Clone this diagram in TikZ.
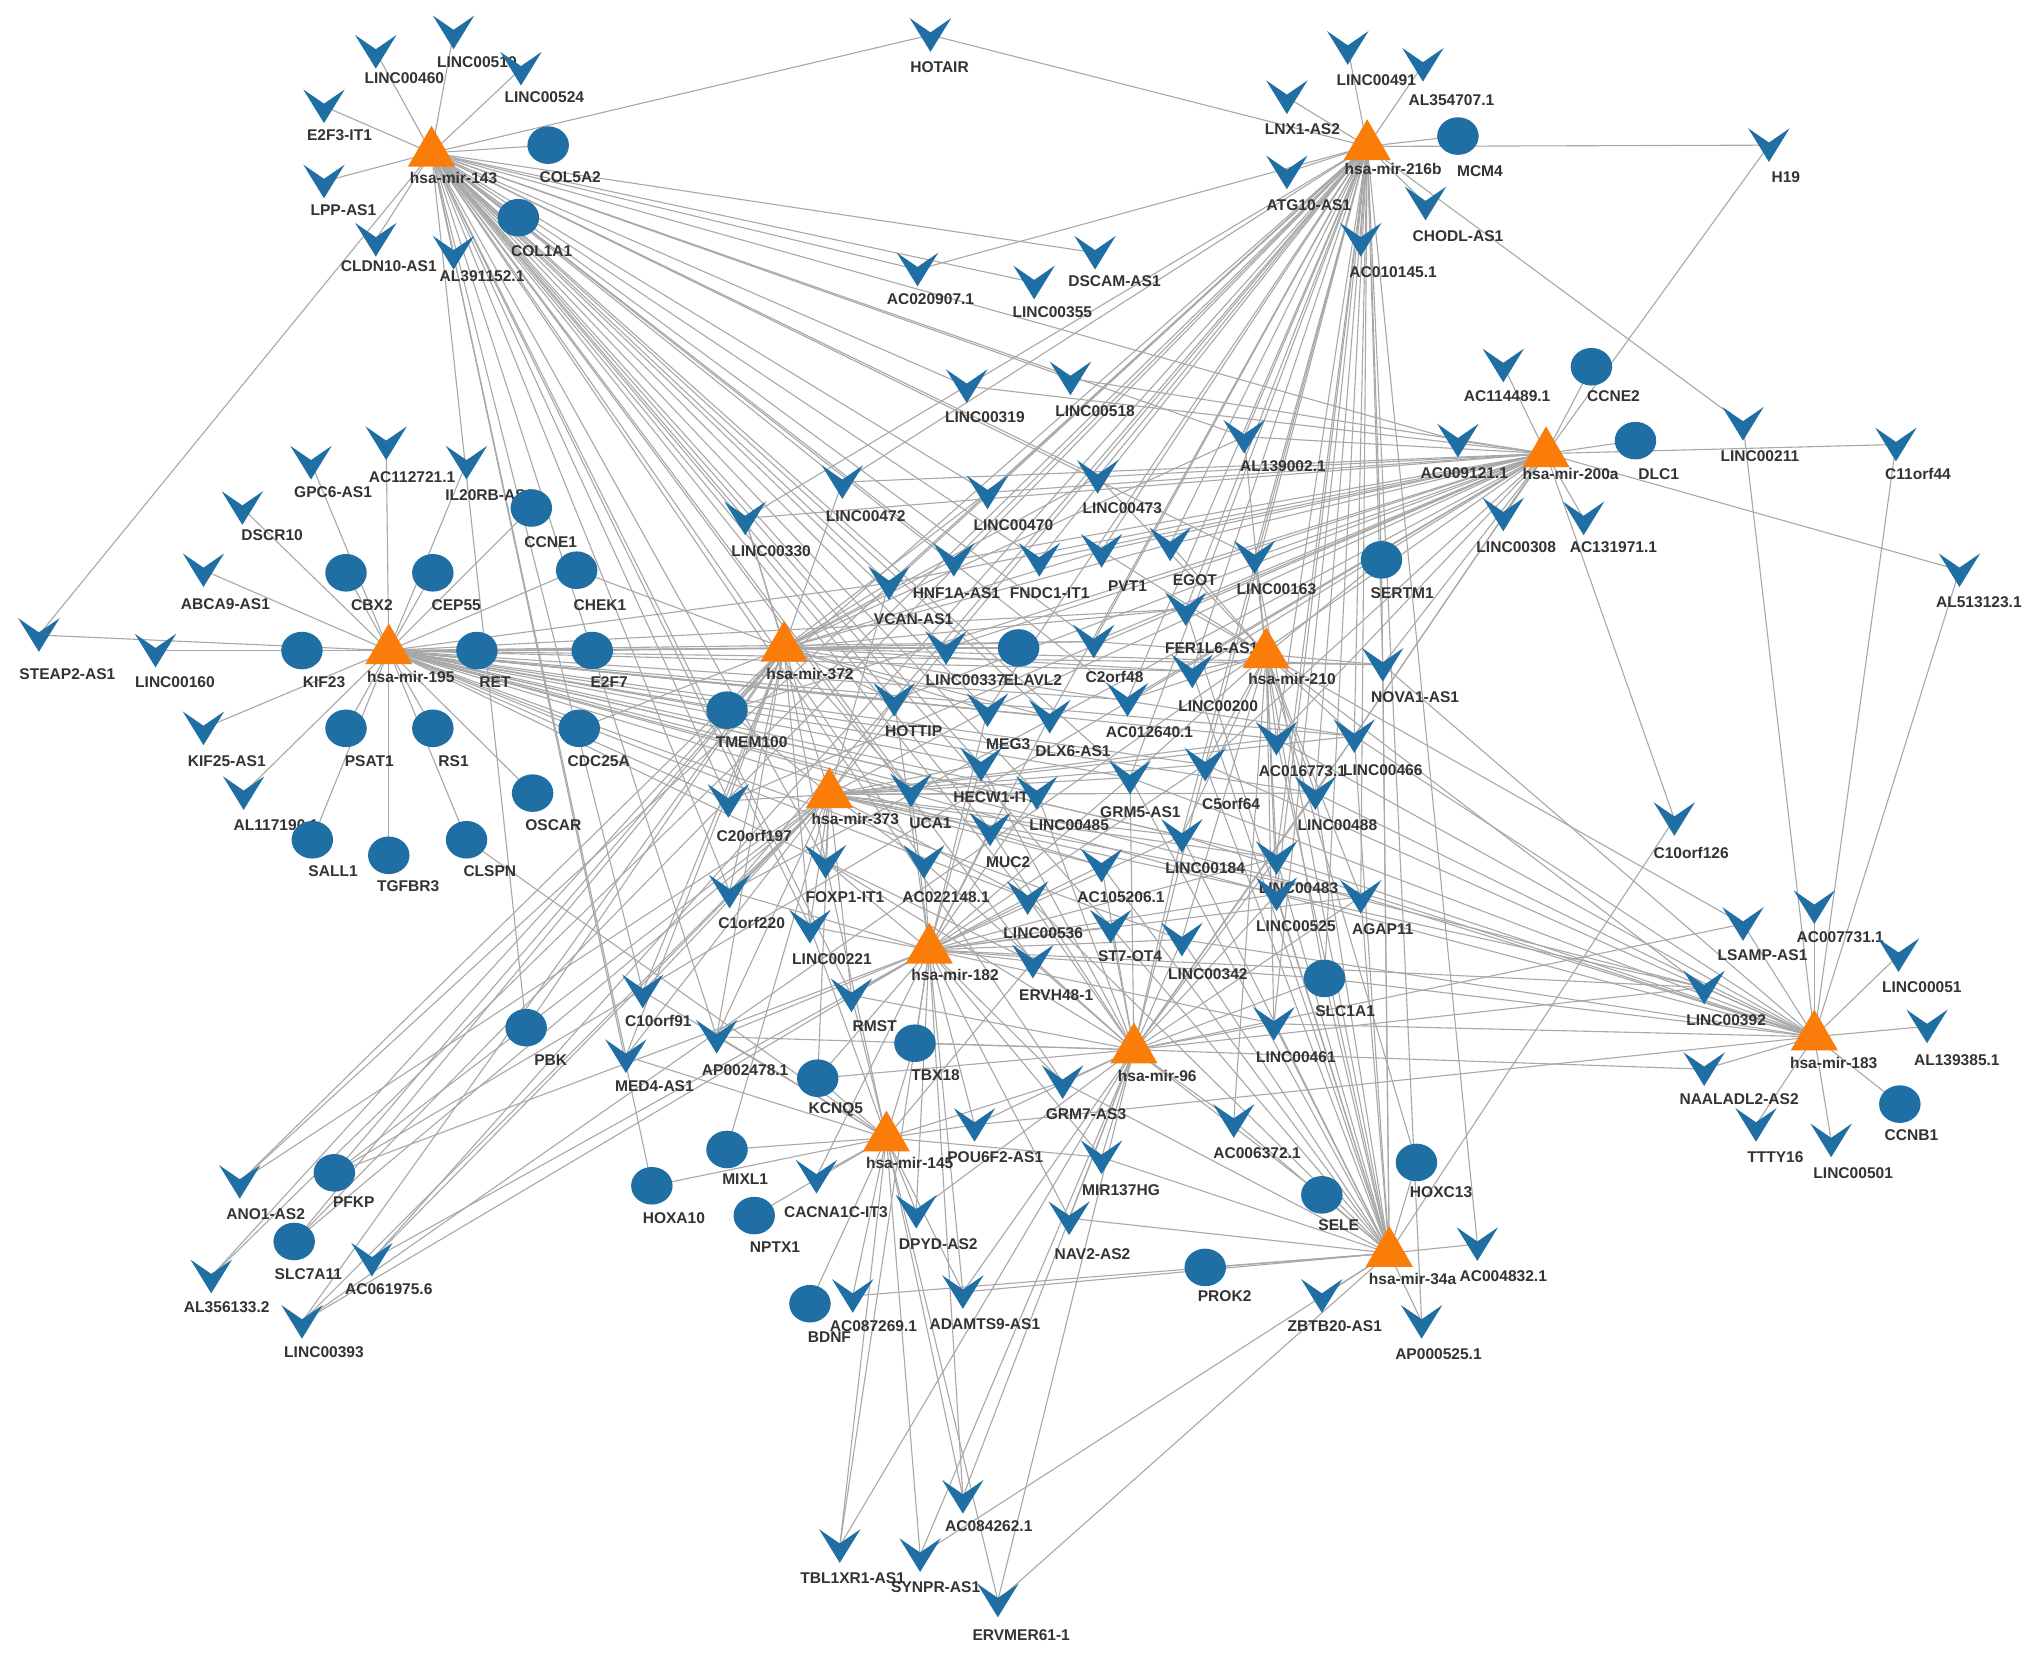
\documentclass[tikz,border=0pt]{standalone}
\usepackage{fontspec}
\setmainfont{Liberation Sans}
\usetikzlibrary{shapes.geometric}
\pgfdeclarelayer{bg}
\pgfsetlayers{bg,main}
\definecolor{vblue}{RGB}{31,111,165}
\definecolor{mor}{RGB}{250,125,10}
\definecolor{edgec}{RGB}{168,168,168}
\tikzset{
 mirna/.style={regular polygon, regular polygon sides=3, minimum size=42pt, inner sep=0pt, fill=mor},
 mrna/.style={ellipse, minimum width=32pt, minimum height=29pt, inner sep=0pt, fill=vblue},
 lnc/.style={rectangle, minimum width=32pt, minimum height=26pt, inner sep=0pt, fill=white, fill opacity=0,
   path picture={\fill[vblue, fill opacity=1] (path picture bounding box.north west) -- ([yshift=-11pt]path picture bounding box.north) -- (path picture bounding box.north east) -- (path picture bounding box.south) -- cycle;}},
 lbl/.style={font=\fontsize{12}{13}\selectfont\bfseries, text=black!80, inner sep=0pt},
 edge/.style={draw=edgec, line width=0.85pt}
}
\newcommand\mkV[6]{\node[lnc] (#1) at (#2,-#3) {}; \node[lbl] (#1l) at (#4,-#5) {#6};}
\newcommand\mkC[6]{\node[mrna] (#1) at (#2,-#3) {}; \node[lbl] (#1l) at (#4,-#5) {#6};}
\newcommand\mkT[6]{\node[mirna] (#1) at (#2,-#3-5) {}; \node[lbl] (#1l) at (#4,-#5) {#6};}
\newcommand\hubedges[2]{\foreach \t in {#2} {\draw[edge] (#1.center) -- (\t.center);}}
\begin{document}
\begin{tikzpicture}[x=1pt,y=1pt]
\begin{pgfonlayer}{bg}
\fill[white] (0,0) rectangle (1568,-1277);
\end{pgfonlayer}
\useasboundingbox (0,0) rectangle (1568,-1277);
% top-left
\mkV{l460}{290}{40}{312}{60}{LINC00460}
\mkV{l519}{350}{25}{368}{48}{LINC00519}
\mkV{l524}{402}{53}{420}{75}{LINC00524}
\mkV{e2f3}{250}{82}{262}{104}{E2F3-IT1}
\mkT{m143}{333}{113}{350}{137}{hsa-mir-143}
\mkC{col5a2}{423}{112}{440}{137}{COL5A2}
\mkV{lpp}{250}{140}{265}{162}{LPP-AS1}
\mkC{col1a1}{400}{168}{418}{194}{COL1A1}
\mkV{cldn10}{290}{185}{300}{205}{CLDN10-AS1}
\mkV{al391}{350}{195}{372}{213}{AL391152.1}
\mkV{hotair}{718}{27}{725}{52}{HOTAIR}
% top-right
\mkV{l491}{1040}{37}{1062}{62}{LINC00491}
\mkV{al354}{1098}{50}{1120}{77}{AL354707.1}
\mkV{lnx1}{993}{75}{1005}{100}{LNX1-AS2}
\mkT{m216}{1055}{108}{1075}{130}{hsa-mir-216b}
\mkC{mcm4}{1125}{105}{1142}{132}{MCM4}
\mkV{atg10}{993}{133}{1010}{158}{ATG10-AS1}
\mkV{chodl}{1100}{157}{1125}{182}{CHODL-AS1}
\mkV{ac010145}{1050}{185}{1075}{210}{AC010145.1}
\mkV{h19}{1365}{112}{1378}{137}{H19}
\mkV{dscam}{845}{195}{860}{217}{DSCAM-AS1}
\mkV{l355}{798}{218}{812}{241}{LINC00355}
\mkV{ac020907}{708}{208}{718}{231}{AC020907.1}
% mir-200a
\mkV{ac114489}{1160}{282}{1163}{306}{AC114489.1}
\mkC{ccne2}{1228}{283}{1245}{306}{CCNE2}
\mkV{ac009121}{1125}{340}{1130}{365}{AC009121.1}
\mkT{m200}{1193}{345}{1212}{366}{hsa-mir-200a}
\mkC{dlc1}{1262}{340}{1280}{366}{DLC1}
\mkV{l308}{1160}{397}{1170}{422}{LINC00308}
\mkV{ac131971}{1222}{400}{1245}{422}{AC131971.1}
\mkV{l211}{1345}{327}{1358}{352}{LINC00211}
\mkV{c11orf44}{1463}{343}{1480}{366}{C11orf44}
\mkV{al513}{1512}{440}{1527}{465}{AL513123.1}
\mkV{al139002}{960}{337}{990}{360}{AL139002.1}
\mkV{l319}{746}{298}{760}{322}{LINC00319}
\mkV{l518}{826}{292}{845}{317}{LINC00518}
% mir-195
\mkV{gpc6}{240}{357}{257}{380}{GPC6-AS1}
\mkV{ac112721}{298}{342}{318}{368}{AC112721.1}
\mkV{il20rb}{360}{357}{378}{382}{IL20RB-AS1}
\mkV{dscr10}{187}{392}{210}{413}{DSCR10}
\mkC{ccne1}{410}{392}{425}{418}{CCNE1}
\mkV{abca9}{157}{440}{174}{466}{ABCA9-AS1}
\mkC{cbx2}{267}{442}{287}{467}{CBX2}
\mkC{cep55}{334}{442}{352}{467}{CEP55}
\mkC{chek1}{445}{440}{463}{467}{CHEK1}
\mkV{steap2}{30}{490}{52}{520}{STEAP2-AS1}
\mkV{l160}{120}{502}{135}{526}{LINC00160}
\mkC{kif23}{233}{502}{250}{526}{KIF23}
\mkT{m195}{300}{497}{317}{522}{hsa-mir-195}
\mkC{ret}{368}{502}{382}{526}{RET}
\mkC{e2f7}{457}{502}{470}{526}{E2F7}
\mkV{kif25}{157}{562}{175}{587}{KIF25-AS1}
\mkC{psat1}{267}{562}{285}{587}{PSAT1}
\mkC{rs1}{334}{562}{350}{587}{RS1}
\mkC{cdc25a}{447}{562}{462}{587}{CDC25A}
\mkV{al117190}{188}{612}{213}{637}{AL117190.1}
\mkC{oscar}{411}{612}{427}{637}{OSCAR}
\mkC{sall1}{241}{648}{257}{672}{SALL1}
\mkC{tgfbr3}{300}{660}{315}{684}{TGFBR3}
\mkC{clspn}{360}{648}{378}{672}{CLSPN}
% middle
\mkV{l330}{575}{400}{595}{425}{LINC00330}
\mkV{l472}{650}{372}{668}{398}{LINC00472}
\mkV{l470}{762}{380}{782}{405}{LINC00470}
\mkV{l473}{847}{368}{866}{392}{LINC00473}
\mkV{vcan}{686}{450}{705}{478}{VCAN-AS1}
\mkV{hnf1a}{736}{432}{738}{458}{HNF1A-AS1}
\mkV{fndc1}{802}{432}{810}{458}{FNDC1-IT1}
\mkV{pvt1}{850}{425}{870}{452}{PVT1}
\mkV{egot}{903}{420}{922}{448}{EGOT}
\mkV{l163}{968}{430}{985}{455}{LINC00163}
\mkC{sertm1}{1066}{432}{1082}{458}{SERTM1}
\mkT{m372}{605}{495}{625}{520}{hsa-mir-372}
\mkV{l337}{730}{500}{745}{525}{LINC00337}
\mkC{elavl2}{786}{500}{797}{525}{ELAVL2}
\mkV{c2orf48}{844}{495}{860}{522}{C2orf48}
\mkV{fer1l6}{915}{470}{935}{500}{FER1L6-AS1}
\mkT{m210}{977}{500}{997}{524}{hsa-mir-210}
\mkV{nova1}{1067}{513}{1092}{538}{NOVA1-AS1}
\mkC{tmem100}{561}{548}{580}{573}{TMEM100}
\mkV{hottip}{690}{540}{705}{564}{HOTTIP}
\mkV{meg3}{762}{548}{778}{574}{MEG3}
\mkV{dlx6}{810}{553}{828}{580}{DLX6-AS1}
\mkV{ac012640}{870}{540}{887}{565}{AC012640.1}
\mkV{l200}{920}{518}{940}{545}{LINC00200}
\mkV{ac016773}{985}{570}{1005}{595}{AC016773.1}
\mkV{l466}{1045}{568}{1067}{594}{LINC00466}
\mkT{m373}{640}{608}{660}{632}{hsa-mir-373}
\mkV{c20orf197}{562}{618}{582}{645}{C20orf197}
\mkV{uca1}{703}{610}{718}{635}{UCA1}
\mkV{hecw1}{757}{590}{768}{615}{HECW1-IT1}
\mkV{l485}{800}{612}{825}{637}{LINC00485}
\mkV{grm5}{872}{600}{880}{627}{GRM5-AS1}
\mkV{c5orf64}{930}{590}{950}{620}{C5orf64}
\mkV{l488}{1015}{612}{1032}{637}{LINC00488}
\mkV{muc2}{764}{640}{778}{665}{MUC2}
\mkV{l184}{912}{645}{930}{670}{LINC00184}
\mkV{l483}{985}{662}{1002}{685}{LINC00483}
\mkV{c1orf220}{563}{688}{580}{712}{C1orf220}
\mkV{foxp1}{637}{665}{652}{692}{FOXP1-IT1}
\mkV{ac022148}{713}{665}{730}{692}{AC022148.1}
\mkV{ac105206}{850}{668}{865}{692}{AC105206.1}
\mkV{l525}{985}{690}{1000}{715}{LINC00525}
\mkV{agap11}{1050}{692}{1067}{717}{AGAP11}
\mkV{l221}{625}{715}{642}{740}{LINC00221}
\mkV{l536}{793}{693}{805}{720}{LINC00536}
\mkT{m182}{717}{728}{737}{752}{hsa-mir-182}
\mkV{erv48}{797}{742}{815}{768}{ERVH48-1}
\mkV{st7}{857}{715}{872}{738}{ST7-OT4}
\mkV{l342}{912}{725}{932}{752}{LINC00342}
\mkC{slc1a1}{1022}{755}{1038}{780}{SLC1A1}
\mkV{l461}{983}{790}{1000}{816}{LINC00461}
\mkV{c10orf91}{496}{765}{508}{788}{C10orf91}
\mkV{rmst}{657}{768}{675}{792}{RMST}
\mkC{tbx18}{706}{805}{722}{830}{TBX18}
\mkT{m96}{875}{805}{893}{830}{hsa-mir-96}
\mkC{pbk}{406}{793}{425}{818}{PBK}
\mkV{med4}{483}{815}{505}{838}{MED4-AS1}
\mkV{ap002478}{553}{800}{575}{826}{AP002478.1}
\mkC{kcnq5}{631}{832}{645}{856}{KCNQ5}
\mkV{grm7}{820}{835}{838}{860}{GRM7-AS3}
\mkV{ac006372}{952}{865}{970}{890}{AC006372.1}
\mkT{m145}{684}{873}{702}{897}{hsa-mir-145}
\mkV{pou6f2}{752}{868}{768}{893}{POU6F2-AS1}
\mkC{mixl1}{561}{887}{575}{910}{MIXL1}
\mkV{cacna1c}{630}{908}{645}{935}{CACNA1C-IT3}
\mkV{mir137}{850}{893}{865}{918}{MIR137HG}
\mkC{hoxc13}{1093}{897}{1112}{920}{HOXC13}
\mkC{sele}{1020}{922}{1033}{945}{SELE}
\mkC{hoxa10}{503}{915}{520}{940}{HOXA10}
\mkC{nptx1}{582}{938}{598}{962}{NPTX1}
\mkV{dpyd}{707}{935}{724}{960}{DPYD-AS2}
\mkV{nav2}{825}{940}{843}{968}{NAV2-AS2}
\mkC{prok2}{930}{978}{945}{1000}{PROK2}
\mkT{m34}{1072}{962}{1090}{987}{hsa-mir-34a}
\mkV{ac004832}{1140}{960}{1160}{985}{AC004832.1}
\mkV{zbtb20}{1020}{1000}{1030}{1023}{ZBTB20-AS1}
\mkV{ap000525}{1097}{1020}{1110}{1045}{AP000525.1}
\mkC{bdnf}{625}{1006}{640}{1032}{BDNF}
\mkV{ac087269}{658}{1000}{674}{1023}{AC087269.1}
\mkV{adamts9}{743}{997}{760}{1022}{ADAMTS9-AS1}
\mkV{ac084262}{743}{1155}{763}{1178}{AC084262.1}
\mkV{tbl1xr1}{648}{1193}{658}{1218}{TBL1XR1-AS1}
\mkV{synpr}{710}{1200}{722}{1225}{SYNPR-AS1}
\mkV{ervmer}{770}{1235}{788}{1262}{ERVMER61-1}
% bottom-left
\mkC{pfkp}{258}{905}{273}{928}{PFKP}
\mkV{ano1}{185}{912}{205}{937}{ANO1-AS2}
\mkC{slc7a11}{227}{958}{238}{983}{SLC7A11}
\mkV{ac061975}{287}{972}{300}{995}{AC061975.6}
\mkV{al356133}{163}{985}{175}{1009}{AL356133.2}
\mkV{l393}{233}{1020}{250}{1043}{LINC00393}
% right
\mkV{c10orf126}{1292}{632}{1305}{658}{C10orf126}
\mkV{lsamp}{1345}{713}{1360}{737}{LSAMP-AS1}
\mkV{ac007731}{1400}{700}{1420}{723}{AC007731.1}
\mkV{l051}{1465}{737}{1483}{762}{LINC00051}
\mkV{l392}{1315}{762}{1332}{787}{LINC00392}
\mkT{m183}{1400}{795}{1415}{820}{hsa-mir-183}
\mkV{al139385}{1487}{792}{1510}{818}{AL139385.1}
\mkV{naaladl2}{1315}{825}{1342}{848}{NAALADL2-AS2}
\mkC{ccnb1}{1466}{852}{1475}{876}{CCNB1}
\mkV{ttty16}{1355}{868}{1370}{893}{TTTY16}
\mkV{l501}{1413}{880}{1430}{905}{LINC00501}
% edges
\begin{pgfonlayer}{bg}
\hubedges{m143}{l460,l519,l524,e2f3,lpp,col5a2,col1a1,cldn10,al391,hotair,steap2,dscam,l355,ac020907,l319,l518,l472,l330,l470,l473,hnf1a,vcan,fndc1,l337,hottip,meg3,dlx6,c2orf48,ac012640,uca1,hecw1,l485,muc2,grm5,c20orf197,c1orf220,foxp1,ac022148,l221,l536,erv48,st7,rmst,c10orf91,med4,ap002478,pbk,hoxa10,al139002,ac009121,l163,grm7}
\hubedges{m216}{l491,al354,lnx1,atg10,mcm4,chodl,ac010145,h19,hotair,l211,ac020907,l330,l472,l470,l473,al139002,vcan,hnf1a,fndc1,pvt1,egot,l163,fer1l6,l200,ac012640,c2orf48,dlx6,meg3,l337,ac016773,l466,c5orf64,grm5,l488,l483,l525,l184,agap11,l461,nova1,sertm1,ac004832,ap000525,c1orf220,ano1,slc7a11,ac061975,al356133,slc1a1,tmem100}
\hubedges{m200}{ac114489,ccne2,dlc1,ac009121,l308,ac131971,c11orf44,al513,h19,c10orf126,l518,l319,al139002,l473,l470,l472,l330,hnf1a,fndc1,pvt1,egot,l163,fer1l6,l200,c2orf48,l337,vcan,hottip,meg3,ac012640,l466,ac016773,c5orf64,c20orf197,c1orf220,pfkp,l393,nova1,tmem100,l488}
\hubedges{m195}{gpc6,ac112721,il20rb,dscr10,ccne1,abca9,cbx2,cep55,chek1,l160,kif23,ret,e2f7,kif25,psat1,rs1,cdc25a,al117190,oscar,sall1,tgfbr3,clspn,steap2,tmem100,hottip,l337,meg3,dlx6,ac012640,l200,fer1l6,c2orf48,l466,ac016773,uca1,hecw1,l485,grm5,c5orf64,l488,l184,l483,ac105206,l525,nova1,vcan,c20orf197,l536,l342,l392,erv48}
\hubedges{m372}{tmem100,c20orf197,c1orf220,l330,l472,vcan,hnf1a,l337,hottip,meg3,elavl2,c2orf48,fer1l6,l200,al139002,l473,l470,pvt1,egot,dlx6,l466,nova1,uca1,foxp1,l221,med4,ap002478,c10orf91,pbk,ano1,pfkp,slc7a11,al356133,l393,e2f7,chek1,ret,cdc25a}
\hubedges{m373}{c20orf197,c1orf220,uca1,hecw1,muc2,l485,grm5,c5orf64,l488,l184,l483,ac105206,foxp1,ac022148,l221,l536,rmst,ap002478,c10orf91,med4,pfkp,ano1,slc7a11,ac061975,l393,hottip,meg3,vcan,l337,tmem100,l330,ac016773,l466,agap11,l392,kcnq5,mixl1}
\hubedges{m182}{ac022148,foxp1,l536,erv48,st7,l342,rmst,tbx18,ac105206,l184,l483,l525,agap11,muc2,hecw1,uca1,l485,grm5,c5orf64,hottip,meg3,dlx6,l221,c1orf220,ap002478,kcnq5,cacna1c,dpyd,adamts9,ac084262,tbl1xr1,grm7,pou6f2,mir137,nav2,l461,slc1a1,l392,pfkp,ac061975,l393}
\hubedges{m96}{grm7,mir137,nav2,ac006372,l461,l342,st7,erv48,l536,ac105206,l184,l483,l525,agap11,l488,grm5,c5orf64,l485,muc2,hecw1,tbx18,pou6f2,dpyd,adamts9,ac084262,tbl1xr1,synpr,ervmer,rmst,kcnq5,ap002478,foxp1,ac022148,sele,l392,naaladl2,lsamp,l466,slc1a1}
\hubedges{m145}{kcnq5,mixl1,hoxa10,nptx1,cacna1c,dpyd,bdnf,ac087269,adamts9,tbl1xr1,synpr,ac084262,ervmer,pou6f2,tbx18,rmst,ap002478,med4,c10orf91,l221,foxp1,erv48,grm7,mir137,clspn}
\hubedges{m210}{l163,fer1l6,l200,egot,pvt1,c5orf64,ac016773,l466,l488,l483,l525,agap11,nova1,sertm1,l184,grm5,ac012640,c2orf48,l473,al139002,l461,slc1a1,l392,lsamp,ac006372,l342,hoxc13}
\hubedges{m34}{sele,hoxc13,ac004832,zbtb20,ap000525,prok2,ac006372,nav2,mir137,grm7,ac087269,adamts9,c10orf126,l461,slc1a1,agap11,l525,l483,l488,l466,ac016773,l184,l342,st7,l536,ac105206,grm5,c5orf64,nova1,sertm1,l200,fer1l6,l163,synpr,ervmer}
\hubedges{m183}{lsamp,ac007731,l051,l392,al139385,naaladl2,ccnb1,ttty16,l501,l211,c11orf44,al513,pou6f2,agap11,l525,l483,l488,l466,ac016773,nova1,l461,slc1a1,c5orf64,l184,grm5,l342}
\end{pgfonlayer}
\end{tikzpicture}
\end{document}
